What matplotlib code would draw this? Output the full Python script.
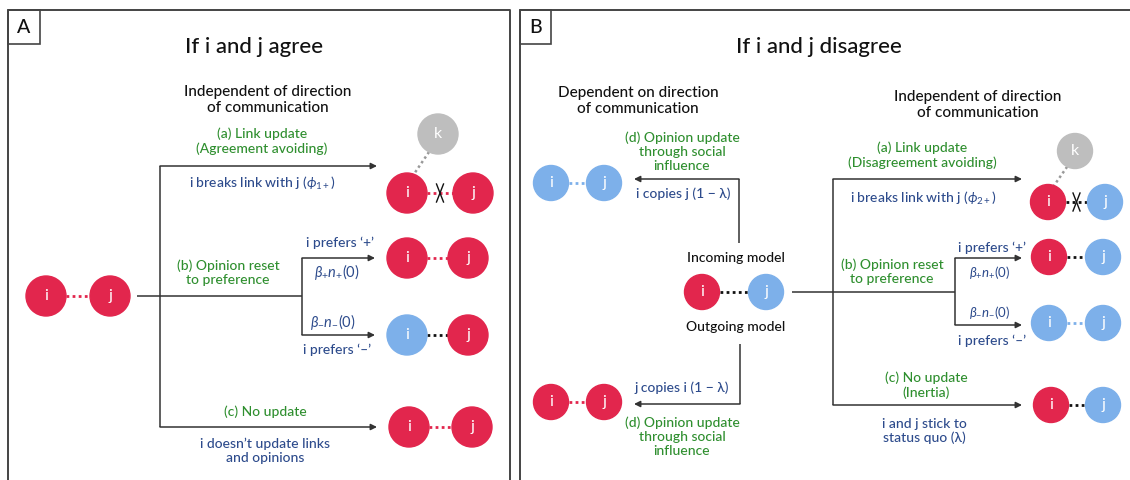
import matplotlib
matplotlib.use('Agg')
import matplotlib.pyplot as plt
from matplotlib.patches import Circle, Rectangle

# ---------------- content (texts / node states) ----------------
panel_letters = ["A", "B"]
titles = ["If i and j agree", "If i and j disagree"]
subheaders = ["Independent of direction\nof communication",
              "Dependent on direction\nof communication",
              "Independent of direction\nof communication"]
A_green = ["(a) Link update\n(Agreement avoiding)",
           "(b) Opinion reset\nto preference",
           "(c) No update"]
A_navy = ["i breaks link with j ($\\phi_{1+}$)",
          "i prefers \u2018+\u2019", "$\\beta_{+}n_{+}(0)$",
          "$\\beta_{-}n_{-}(0)$", "i prefers \u2018\u2013\u2019",
          "i doesn\u2019t update links\nand opinions"]
B_green = ["(d) Opinion update\nthrough social\ninfluence",
           "(a) Link update\n(Disagreement avoiding)",
           "(b) Opinion reset\nto preference",
           "(c) No update\n(Inertia)"]
B_navy = ["i copies j (1 \u2212 \u03bb)", "j copies i (1 \u2212 \u03bb)",
          "i breaks link with j ($\\phi_{2+}$)",
          "i prefers \u2018+\u2019", "$\\beta_{+}n_{+}(0)$",
          "$\\beta_{-}n_{-}(0)$", "i prefers \u2018\u2013\u2019",
          "i and j stick to\nstatus quo (\u03bb)"]
model_labels = ["Incoming model", "Outgoing model"]
# opinion states of (i, j) for each pair: 'p' = red, 'm' = blue
A_pairs = [("p", "p"), ("p", "p"), ("p", "p"), ("m", "p"), ("p", "p")]
B_pairs = [("p", "m"), ("m", "m"), ("p", "p"), ("p", "m"), ("p", "m"), ("m", "m"), ("p", "m")]

# ---------------- style ----------------
RED = '#E2264D'; BLUE = '#7DB0EA'; GRAY = '#BEBEBE'
GREEN = '#2F8F2F'; NAVY = '#2D4B8C'; LINE = '#333333'
FONT = ['Lato', 'DejaVu Sans']
plt.rcParams['font.family'] = FONT
plt.rcParams['mathtext.fontset'] = 'custom'
plt.rcParams['mathtext.rm'] = 'Lato'
plt.rcParams['mathtext.it'] = 'Lato:italic'
COL = {'p': RED, 'm': BLUE}

fig = plt.figure(figsize=(11.3, 4.8), dpi=100)
ax = fig.add_axes([0, 0, 1, 1])
ax.set_xlim(0, 1130); ax.set_ylim(480, 0); ax.axis('off')


def txt(x, y, s, color='#111111', size=10, weight='medium', **kw):
    ax.text(x, y, s, color=color, fontsize=size, ha='center', va='center',
            linespacing=1.22, family=FONT, fontweight=weight, **kw)


def node(x, y, r, color, label):
    ax.add_patch(Circle((x, y), r, color=color, zorder=3))
    txt(x, y, label, color='white', size=11.5, weight='normal', zorder=4)


def pair(xi, xj, y, r, state, cut=False):
    ci, cj = COL[state[0]], COL[state[1]]
    lc = ci if ci == cj else '#111111'
    ax.plot([xi + r, xj - r], [y, y], color=lc, lw=2, ls=(0, (1, 1.2)), zorder=2)
    node(xi, y, r, ci, 'i'); node(xj, y, r, cj, 'j')
    if cut:
        xm = (xi + xj) / 2
        ax.plot([xm - 3.5, xm + 3.5], [y - 9, y + 9], color='#111111', lw=1, zorder=5)
        ax.plot([xm + 3.5, xm - 3.5], [y - 9, y + 9], color='#111111', lw=1, zorder=5)


def kfriend(xk, yk, xi, yi, r):
    ax.plot([xk - 0.45 * r, xi + 0.35 * r], [yk + 0.9 * r, yi - 0.95 * r],
            color='#999999', lw=1.8, ls=(0, (1, 1.2)), zorder=2)
    ax.add_patch(Circle((xk, yk), r, color=GRAY, zorder=3))
    txt(xk, yk, 'k', color='white', size=11.5, weight='normal', zorder=4)


def seg(xs, ys):
    ax.plot(xs, ys, color=LINE, lw=1.1, solid_capstyle='butt')


def arrow(x0, y0, x1, y1):
    ax.annotate('', xy=(x1, y1), xytext=(x0, y0),
                arrowprops=dict(arrowstyle='-|>', lw=1.1, color=LINE,
                                mutation_scale=9, shrinkA=0, shrinkB=0))


# ---------------- frames ----------------
ax.plot([8, 8, 510, 510], [485, 10, 10, 485], color='#444444', lw=1.4)
ax.plot([520, 520, 1140], [485, 10, 10], color='#444444', lw=1.4)
for (x0, w), lab in zip([(8, 32), (520, 31)], panel_letters):
    ax.add_patch(Rectangle((x0, 10), w, 34, fill=False, ec='#444444', lw=1.2))
    txt(x0 + w / 2, 27.5, lab, size=14)

# ---------------- panel A ----------------
txt(254, 47, titles[0], size=16)
txt(268, 100, subheaders[0], size=11)
rA = 20
pair(46, 110, 296, rA, A_pairs[0])
seg([137, 302], [296, 296])
seg([160, 160], [166, 427])
arrow(160, 166, 377, 166)
arrow(160, 427, 377, 427)
seg([302, 302], [258, 335])
arrow(302, 258, 375, 258)
arrow(302, 335, 375, 335)
kfriend(438, 134, 407, 193, rA)
pair(407, 473, 193, rA, A_pairs[1], cut=True)
pair(407, 468, 258, rA, A_pairs[2])
pair(407, 468, 335, rA, A_pairs[3])
pair(409, 472, 427, rA, A_pairs[4])

txt(262, 141, A_green[0], GREEN, 10)
txt(228, 273, A_green[1], GREEN, 10)
txt(265, 412, A_green[2], GREEN, 10)
txt(262, 183, A_navy[0], NAVY, 10)
txt(340, 243, A_navy[1], NAVY, 10)
txt(337, 272, A_navy[2], NAVY, 10.5)
txt(333, 322, A_navy[3], NAVY, 10.5)
txt(337, 350, A_navy[4], NAVY, 10)
txt(265, 451, A_navy[5], NAVY, 10)

# ---------------- panel B ----------------
txt(819, 47, titles[1], size=16)
txt(638, 101, subheaders[1], size=11)
txt(978, 105, subheaders[2], size=11)
rB = 17.5
pair(702, 766, 292, rB, B_pairs[0])
txt(736, 258, model_labels[0], size=10)
txt(736, 327, model_labels[1], size=10)
seg([792, 955], [292, 292])
seg([833, 833], [179, 405])
arrow(833, 179, 1022, 179)
arrow(833, 405, 1022, 405)
seg([955, 955], [258, 325])
arrow(955, 258, 1022, 258)
arrow(955, 325, 1022, 325)
seg([739, 739], [243, 179])
arrow(739, 179, 634, 179)
seg([740, 740], [344, 404])
arrow(740, 404, 634, 404)

pair(551, 604, 183, rB, B_pairs[1])
pair(551, 604, 402, rB, B_pairs[2])
kfriend(1075, 151, 1048, 202, rB)
pair(1048, 1105, 202, rB, B_pairs[3], cut=True)
pair(1049, 1103, 257, rB, B_pairs[4])
pair(1049, 1103, 323, rB, B_pairs[5])
pair(1051, 1103, 405, rB, B_pairs[6])

txt(682, 152, B_green[0], GREEN, 10)
txt(682, 437, B_green[0], GREEN, 10)
txt(922, 155, B_green[1], GREEN, 10)
txt(892, 272, B_green[2], GREEN, 10)
txt(926, 385, B_green[3], GREEN, 10)
txt(683, 194, B_navy[0], NAVY, 10)
txt(682, 388, B_navy[1], NAVY, 10)
txt(923, 198, B_navy[2], NAVY, 10)
txt(992, 248, B_navy[3], NAVY, 10)
txt(990, 273, B_navy[4], NAVY, 9.5)
txt(990, 313, B_navy[5], NAVY, 9.5)
txt(992, 341, B_navy[6], NAVY, 10)
txt(924, 431, B_navy[7], NAVY, 10)

fig.savefig('out.png', dpi=100, facecolor='white')
